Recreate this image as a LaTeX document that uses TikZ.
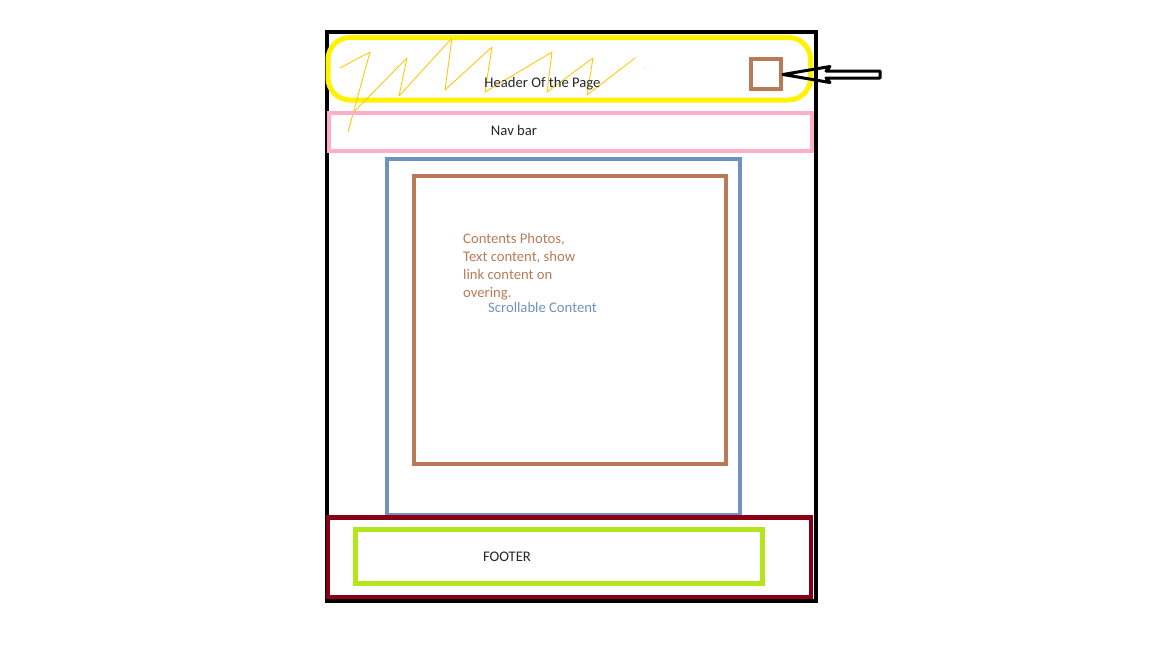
\documentclass[tikz,border=0pt]{standalone}
\usepackage{fontspec}
\setmainfont{Carlito}
\usetikzlibrary{positioning,calc}
\definecolor{paintyellow}{RGB}{255,242,0}
\definecolor{paintgold}{RGB}{255,201,14}
\definecolor{paintbrown}{RGB}{185,122,87}
\definecolor{paintpink}{RGB}{255,174,201}
\definecolor{paintblue}{RGB}{112,146,190}
\definecolor{paintred}{RGB}{136,0,21}
\definecolor{paintlime}{RGB}{181,230,29}
\definecolor{inktext}{RGB}{38,38,38}
\tikzset{
    box/.style={line width=4pt},
    pagetext/.style={inner sep=0pt, font=\fontsize{14.67}{17.9}\selectfont, text=inktext}
}
\begin{document}
\begin{tikzpicture}[x=1pt, y=-1pt]
    \useasboundingbox (0,0) rectangle (1152,648);
    % page frame
    \draw[box, black] (326.5,32) rectangle (816,601);
    % header with scribble
    \draw[box, paintyellow, line width=5pt, rounded corners=22pt] (328,37.5) rectangle (810.5,100);
    \draw[paintgold, line width=0.9pt, line join=round] (340,68) -- (370,52) -- (348,132)
        (353,113) -- (398,67) -- (407,58) -- (399,96) -- (452,38) -- (445,90) -- (492,47)
        -- (485,92) -- (552,52) -- (547,92) -- (593,58) -- (587,95) -- (635,58);
    \fill[paintgold] (645,68) circle (0.6pt);
    \node[pagetext, anchor=base] (header) at (542.5,87) {Header Of the Page};
    \node[draw=paintbrown, line width=4pt, inner sep=0pt, minimum size=30pt] (menu) at (766,74) {};
    \coordinate (tail) at (880,74.5);
    \draw[line width=3pt, line join=round] ($(menu.east)+(0,0.5)$) -- (830,66.5) -- (826,71) -- (tail |- 0,71)
        -- (tail |- 0,78) -- (826,78) -- (830,82.5) -- cycle;
    % nav bar
    \draw[box, paintpink] (329,113) rectangle (812,151);
    \node[pagetext, anchor=base] (nav) at (514,135) {Nav bar};
    % scrollable area
    \draw[box, paintblue] (387,159) rectangle (740,515);
    \draw[box, paintbrown] (414,176) rectangle (726,464);
    \node[pagetext, anchor=base west, align=left, text=paintbrown] (contents) at (463,297.3)
        {Contents Photos,\\Text content, show\\link content on\\overing.};
    \node[pagetext, anchor=base west, text=paintblue] (scroll) at (488,312.7) {Scrollable Content};
    % footer
    \draw[box, paintred, line width=4.5pt] (328,517.5) rectangle (811,597);
    \draw[box, paintlime, line width=5pt] (355.5,529.5) rectangle (762.5,583.5);
    \node[pagetext, anchor=base] (footer) at (507,561) {FOOTER};
\end{tikzpicture}
\end{document}
